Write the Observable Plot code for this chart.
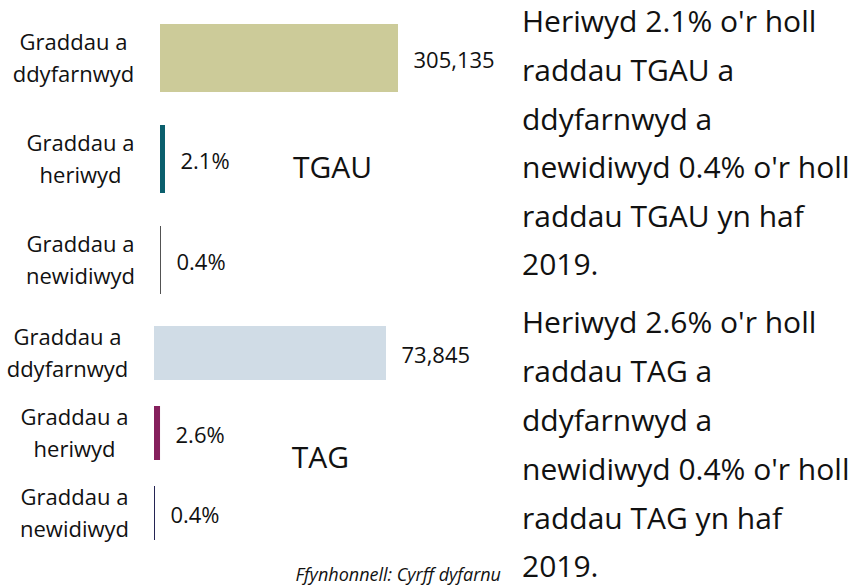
<!DOCTYPE html>
<html>
<head>
<meta charset="utf-8">
<script src="https://cdn.jsdelivr.net/npm/d3@7"></script>
<script src="https://cdn.jsdelivr.net/npm/@observablehq/plot@0.6"></script>
<style>
  body { margin: 0; background: #fff; }
  #root { position: relative; width: 855px; height: 587px; overflow: hidden; font-family: "Open Sans", sans-serif; color: #111; background: #fff; }
  #c1 { position: absolute; left: 0; top: 0; }
  #c2 { position: absolute; left: 0; top: 300px; }
  .line { position: absolute; left: 522px; font-size: 30px; line-height: 36px; height: 36px; white-space: nowrap; }
  #src { position: absolute; right: 354px; top: 562px; font-size: 18px; font-style: italic; line-height: 24px; white-space: nowrap; }
</style>
</head>
<body>
<div id="root">
  <div id="c1"></div>
  <div id="c2"></div>
  <div id="src"></div>
</div>
<script>
// ---- data ----
const categories = ["Graddau a\nddyfarnwyd", "Graddau a\nheriwyd", "Graddau a\nnewidiwyd"];
const tgauBarPct = [100, 2.1, 0.4];
const tgauLabels = ["305,135", "2.1%", "0.4%"];
const tagBarPct = [100, 2.6, 0.4];
const tagLabels = ["73,845", "2.6%", "0.4%"];
const groups = ["TGAU", "TAG"];
const notesTGAU = ["Heriwyd 2.1% o'r holl", "raddau TGAU a", "ddyfarnwyd a", "newidiwyd 0.4% o'r holl", "raddau TGAU yn haf", "2019."];
const notesTAG = ["Heriwyd 2.6% o'r holl", "raddau TAG a", "ddyfarnwyd a", "newidiwyd 0.4% o'r holl", "raddau TAG yn haf", "2019."];
const sourceNote = "Ffynhonnell: Cyrff dyfarnu";

function panel(pcts, labels, group, opts) {
  const rows = categories.map((c, i) => ({cat: c, pct: pcts[i], label: labels[i]}));
  return Plot.plot({
    width: 500,
    height: opts.height,
    marginTop: opts.top,
    marginBottom: opts.bottom,
    marginLeft: opts.left,
    marginRight: 500 - opts.left - opts.span,
    x: {domain: [0, 100], axis: null},
    y: {domain: categories, paddingInner: 0.33, paddingOuter: 0, axis: null},
    color: {domain: categories, range: opts.colors},
    style: {fontFamily: "Open Sans", fontSize: "22px", color: "#111", background: "transparent"},
    marks: [
      Plot.barX(rows, {x: "pct", y: "cat", fill: "cat"}),
      Plot.text(rows, {x: "pct", y: "cat", text: "label", textAnchor: "start", dx: 15, dy: 2, fontSize: 22}),
      Plot.text(rows.slice(0, 1), {y: "cat", text: "cat", frameAnchor: "left", textAnchor: "middle", dx: -87, dy: -3, fontSize: 22, lineHeight: 1.45}),
      Plot.text(rows.slice(1), {y: "cat", text: "cat", frameAnchor: "left", textAnchor: "middle", dx: -80, dy: -3, fontSize: 22, lineHeight: 1.45}),
      Plot.text([group], {y: () => categories[1], text: d => d, frameAnchor: "left", textAnchor: "middle", dx: opts.gdx, dy: opts.gdy, fontSize: 30})
    ]
  });
}

document.getElementById("c1").append(panel(tgauBarPct, tgauLabels, groups[0], {
  height: 300, top: 24, bottom: 6, left: 160, span: 238, gdx: 172, gdy: 9,
  colors: ["#cccb99", "#0b5f6d", "#4a4a4a"]
}));
document.getElementById("c2").append(panel(tagBarPct, tagLabels, groups[1], {
  height: 287, top: 25, bottom: 47, left: 154, span: 232, gdx: 166, gdy: 25,
  colors: ["#d0dce6", "#85205d", "#141448"]
}));

// right-hand notes: one positioned div per line (baseline sits ~29.6px below the div top)
function placeLines(lines, firstBaseline, spacing) {
  const root = document.getElementById("root");
  lines.forEach((t, i) => {
    const d = document.createElement("div");
    d.className = "line";
    d.style.top = (firstBaseline + i * spacing - 29.6) + "px";
    d.textContent = t;
    root.appendChild(d);
  });
}
placeLines(notesTGAU, 33, 48.6);
placeLines(notesTAG, 334, 48.8);
document.getElementById("src").textContent = sourceNote;
</script>
</body>
</html>
